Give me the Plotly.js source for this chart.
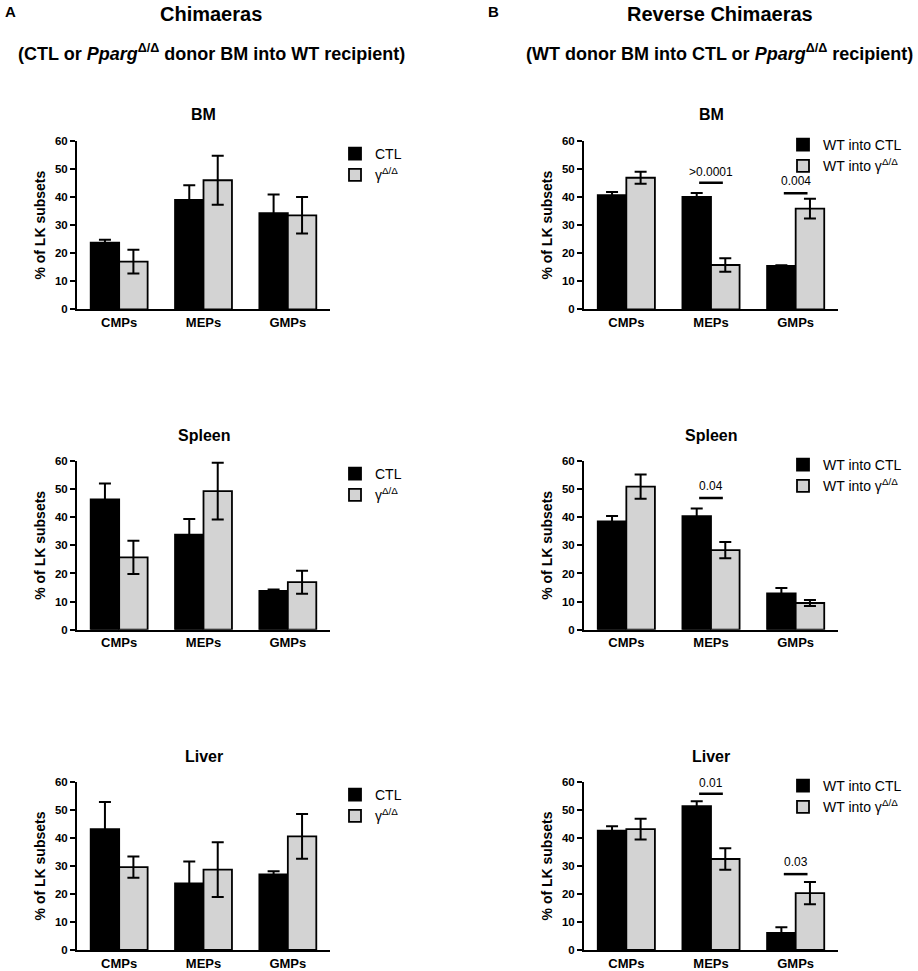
<!DOCTYPE html>
<html>
<head>
<meta charset="utf-8">
<script src="https://cdn.plot.ly/plotly-3.0.1.min.js"></script>
<style>html,body{margin:0;padding:0;background:#fff;}#chart{width:918px;height:971px;}</style>
</head>
<body>
<div id="chart"></div>
<script>
// ---------- data ----------
const categories = ['CMPs', 'MEPs', 'GMPs'];

// A: Chimaeras (CTL or Pparg Δ/Δ donor BM into WT recipient)
const bmCtl = [23.8, 39.0, 34.3];      const bmCtlErr = [1.0, 5.2, 6.6];
const bmKo = [17.0, 46.0, 33.5];       const bmKoErr = [4.2, 8.7, 6.5];
const spCtl = [46.3, 33.8, 13.8];      const spCtlErr = [5.7, 5.6, 0.5];
const spKo = [25.7, 49.3, 16.9];       const spKoErr = [5.9, 10.1, 4.1];
const lvCtl = [43.2, 23.8, 27.0];      const lvCtlErr = [9.7, 7.8, 1.1];
const lvKo = [29.6, 28.7, 40.6];       const lvKoErr = [3.8, 9.8, 8.0];

// B: Reverse Chimaeras (WT donor BM into CTL or Pparg Δ/Δ recipient)
const rbmCtl = [40.7, 40.1, 15.5];     const rbmCtlErr = [1.1, 1.4, 0.2];
const rbmKo = [46.9, 15.8, 35.9];      const rbmKoErr = [2.1, 2.4, 3.5];
const rspCtl = [38.5, 40.4, 12.9];     const rspCtlErr = [1.9, 2.7, 1.9];
const rspKo = [50.9, 28.3, 9.5];       const rspKoErr = [4.3, 2.85, 1.1];
const rlvCtl = [42.6, 51.4, 6.1];      const rlvCtlErr = [1.6, 1.7, 2.0];
const rlvKo = [43.2, 32.5, 20.3];      const rlvKoErr = [3.7, 3.85, 4.0];

// significance labels (panel B)
const sigBmCats = ['MEPs', 'GMPs'];   const sigBmText = ['>0.0001', '0.004']; const sigBmLine = [45.1, 41.4]; const sigBmLabel = [48.9, 45.6];
const sigSpCats = ['MEPs'];           const sigSpText = ['0.04'];             const sigSpLine = [46.8];       const sigSpLabel = [51.1];
const sigLvCats = ['MEPs', 'GMPs'];   const sigLvText = ['0.01', '0.03'];     const sigLvLine = [55.8, 27.1]; const sigLvLabel = [59.6, 31.5];

const panelTitles = ['BM', 'BM', 'Spleen', 'Spleen', 'Liver', 'Liver'];
const namesA = ['CTL', 'γ<sup>Δ/Δ</sup>'];
const namesB = ['WT into CTL', 'WT into γ<sup>Δ/Δ</sup>'];

// ---------- styling ----------
const FONT = 'Liberation Sans, Arial, sans-serif';
const W = 918, H = 971;
const px = v => v / W;
const py = v => 1 - v / H;
const DARK = '#000000', LIGHT = '#d3d3d3';

const panels = [
  {ctl: bmCtl, ctlE: bmCtlErr, ko: bmKo, koE: bmKoErr, names: namesA},
  {ctl: rbmCtl, ctlE: rbmCtlErr, ko: rbmKo, koE: rbmKoErr, names: namesB},
  {ctl: spCtl, ctlE: spCtlErr, ko: spKo, koE: spKoErr, names: namesA},
  {ctl: rspCtl, ctlE: rspCtlErr, ko: rspKo, koE: rspKoErr, names: namesB},
  {ctl: lvCtl, ctlE: lvCtlErr, ko: lvKo, koE: lvKoErr, names: namesA},
  {ctl: rlvCtl, ctlE: rlvCtlErr, ko: rlvKo, koE: rlvKoErr, names: namesB}
];

const xDomL = [px(77), px(330)], xDomR = [px(584), px(838)];
const rowsTop = [141, 461, 782], rowsBot = [309.3, 629.7, 950];

const traces = [];
const layout = {
  width: W, height: H,
  margin: {l: 0, r: 0, t: 0, b: 0},
  paper_bgcolor: '#fff', plot_bgcolor: '#fff',
  barmode: 'group', bargap: 0.325, bargroupgap: 0,
  font: {family: FONT, color: '#000'},
  annotations: [], shapes: []
};

panels.forEach((p, i) => {
  const k = i + 1;
  const xa = k === 1 ? 'x' : 'x' + k, ya = k === 1 ? 'y' : 'y' + k;
  const lg = k === 1 ? 'legend' : 'legend' + k;
  const errStyle = {type: 'data', visible: true, color: '#000', thickness: 2, width: 6};
  traces.push({
    type: 'bar', x: categories, y: p.ctl, name: p.names[0], xaxis: xa, yaxis: ya, legend: lg,
    marker: {color: DARK, line: {color: '#000', width: 1.8}},
    error_y: Object.assign({array: p.ctlE}, errStyle), hoverinfo: 'y'
  });
  traces.push({
    type: 'bar', x: categories, y: p.ko, name: p.names[1], xaxis: xa, yaxis: ya, legend: lg,
    marker: {color: LIGHT, line: {color: '#000', width: 1.8}},
    error_y: Object.assign({array: p.koE}, errStyle), hoverinfo: 'y'
  });
  const row = Math.floor(i / 2), right = i % 2 === 1;
  layout['xaxis' + (k === 1 ? '' : k)] = {
    domain: right ? xDomR : xDomL, anchor: ya, type: 'category', range: [-0.5, 2.5],
    showline: true, linecolor: '#000', linewidth: 2, ticks: '', showgrid: false, zeroline: false,
    tickfont: {family: FONT, size: 13, weight: 700, color: '#000'}, fixedrange: true
  };
  layout['yaxis' + (k === 1 ? '' : k)] = {
    domain: [py(rowsBot[row]), py(rowsTop[row])], anchor: xa, range: [0, 60], dtick: 10,
    showline: true, linecolor: '#000', linewidth: 2, ticks: 'outside', ticklen: 5, tickwidth: 2, tickcolor: '#000',
    showgrid: false, zeroline: false,
    tickfont: {family: FONT, size: 11.5, weight: 700, color: '#000'},
    title: {text: '% of LK subsets', font: {family: FONT, size: 14, weight: 700, color: '#000'}, standoff: 6},
    fixedrange: true
  };
  // panel title
  layout.annotations.push({
    xref: 'paper', yref: 'paper', x: right ? px(711) : px(203.5), y: py(rowsTop[row] - 26),
    xanchor: 'center', yanchor: 'middle', showarrow: false, text: '<b>' + panelTitles[i] + '</b>',
    font: {family: FONT, size: 16, color: '#000'}
  });
  // legend
  layout[lg] = {
    x: right ? px(783) : px(335), y: py(rowsTop[row] + (right ? 2 : 11) - 14),
    xanchor: 'left', yanchor: 'top', bgcolor: 'rgba(0,0,0,0)', borderwidth: 0,
    font: {family: FONT, size: 14, color: '#000'}, tracegroupgap: 0, traceorder: 'normal'
  };
});

// significance bars and labels
function addSig(k, cats, texts, lineY, labelY) {
  const xa = 'x' + k, ya = 'y' + k;
  cats.forEach((c, j) => {
    const ci = categories.indexOf(c);
    layout.shapes.push({type: 'line', xref: xa, yref: ya, x0: ci - 0.14, x1: ci + 0.14, y0: lineY[j], y1: lineY[j],
      line: {color: '#000', width: 2.5}});
    layout.annotations.push({xref: xa, yref: ya, x: ci, y: labelY[j], text: texts[j], showarrow: false,
      xanchor: 'center', yanchor: 'middle', font: {family: FONT, size: 12, color: '#000'}});
  });
}
addSig(2, sigBmCats, sigBmText, sigBmLine, sigBmLabel);
addSig(4, sigSpCats, sigSpText, sigSpLine, sigSpLabel);
addSig(6, sigLvCats, sigLvText, sigLvLine, sigLvLabel);

// headers
layout.annotations.push(
  {xref: 'paper', yref: 'paper', x: px(3), y: py(12), xanchor: 'left', yanchor: 'middle', showarrow: false,
   text: '<b>A</b>', font: {family: FONT, size: 15, color: '#000'}},
  {xref: 'paper', yref: 'paper', x: px(486), y: py(12), xanchor: 'left', yanchor: 'middle', showarrow: false,
   text: '<b>B</b>', font: {family: FONT, size: 15, color: '#000'}},
  {xref: 'paper', yref: 'paper', x: px(210.5), y: py(14), xanchor: 'center', yanchor: 'middle', showarrow: false,
   text: '<b>Chimaeras</b>', font: {family: FONT, size: 20, color: '#000'}},
  {xref: 'paper', yref: 'paper', x: px(719.5), y: py(14), xanchor: 'center', yanchor: 'middle', showarrow: false,
   text: '<b>Reverse Chimaeras</b>', font: {family: FONT, size: 20, color: '#000'}},
  {xref: 'paper', yref: 'paper', x: px(211), y: py(53), xanchor: 'center', yanchor: 'middle', showarrow: false,
   text: '<b>(CTL or <i>Pparg</i><sup>Δ/Δ</sup> donor BM into WT recipient)</b>', font: {family: FONT, size: 18, color: '#000'}},
  {xref: 'paper', yref: 'paper', x: px(719), y: py(53), xanchor: 'center', yanchor: 'middle', showarrow: false,
   text: '<b>(WT donor BM into CTL or <i>Pparg</i><sup>Δ/Δ</sup> recipient)</b>', font: {family: FONT, size: 18, color: '#000'}}
);

Plotly.newPlot('chart', traces, layout, {displayModeBar: false, staticPlot: true});
</script>
</body>
</html>
